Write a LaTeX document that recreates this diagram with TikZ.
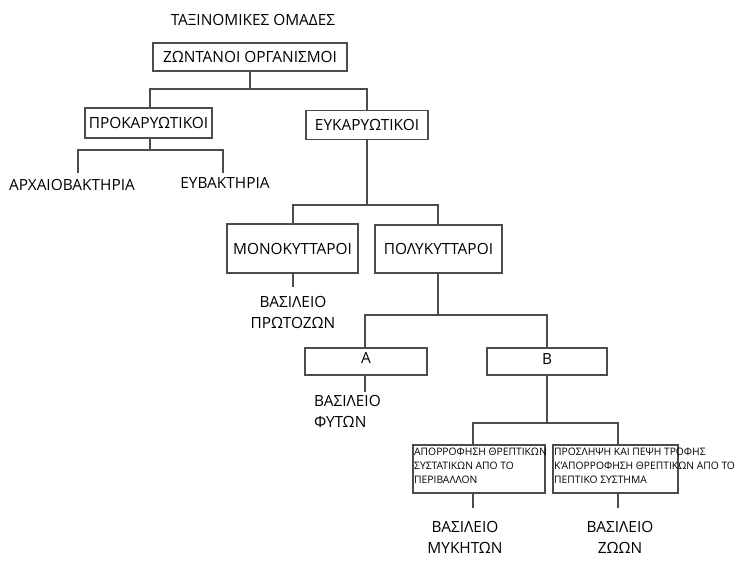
\documentclass[tikz,border=0pt]{standalone}
\usepackage{fontspec}
\setmainfont{Open Sans}
\begin{document}
\begin{tikzpicture}[x=1pt,y=-1pt,
  box/.style={draw=black!70,line width=1.6pt,inner sep=0pt,font=\fontsize{15.4}{18}\selectfont},
  lab/.style={inner sep=0pt,font=\fontsize{15.4}{21}\selectfont,align=center},
  small/.style={inner sep=0pt,font=\fontsize{10.3}{14}\selectfont,align=left,anchor=north west},
  conn/.style={draw=black!70,line width=1.6pt}]
\useasboundingbox[fill=white] (0,0) rectangle (740,564);
% title
\node[lab] (title) at (253,20) {ΤΑΞΙΝΟΜΙΚΕΣ ΟΜΑΔΕΣ};
% boxes
\node[box,minimum width=194pt,minimum height=28pt] (zo) at (250,57) {ΖΩΝΤΑΝΟΙ ΟΡΓΑΝΙΣΜΟΙ};
\node[box,minimum width=127pt,minimum height=30pt] (pro) at (148.5,123) {ΠΡΟΚΑΡΥΩΤΙΚΟΙ};
\node[box,minimum width=122pt,minimum height=29pt] (euk) at (367,125) {ΕΥΚΑΡΥΩΤΙΚΟΙ};
\node[box,minimum width=131pt,minimum height=49pt] (mono) at (292.5,248.5) {ΜΟΝΟΚΥΤΤΑΡΟΙ};
\node[box,minimum width=127pt,minimum height=48pt] (poly) at (438.5,249) {ΠΟΛΥΚΥΤΤΑΡΟΙ};
\node[box,minimum width=122pt,minimum height=27pt,text depth=8pt] (A) at (366,361.5) {Α};
\node[box,minimum width=120pt,minimum height=27pt,text depth=4pt] (B) at (547,361.5) {Β};
\node[box,minimum width=132pt,minimum height=48pt] (abs) at (479,469) {};
\node[box,minimum width=125pt,minimum height=48pt] (ing) at (615.5,469) {};
\node[small] (abst) at (414,448) {ΑΠΟΡΡΟΦΗΣΗ ΘΡΕΠΤΙΚΩΝ\\ΣΥΣΤΑΤΙΚΩΝ ΑΠΟ ΤΟ\\ΠΕΡΙΒΑΛΛΟΝ};
\node[small] (ingt) at (554,448) {ΠΡΟΣΛΗΨΗ ΚΑΙ ΠΕΨΗ ΤΡΟΦΗΣ\\Κ'ΑΠΟΡΡΟΦΗΣΗ ΘΡΕΠΤΙΚΩΝ ΑΠΟ ΤΟ\\ΠΕΠΤΙΚΟ ΣΥΣΤΗΜΑ};
% leaf labels
\node[lab] (arch) at (72,185) {ΑΡΧΑΙΟΒΑΚΤΗΡΙΑ};
\node[lab] (eub) at (225,183) {ΕΥΒΑΚΤΗΡΙΑ};
\node[lab] (prot) at (293,312) {ΒΑΣΙΛΕΙΟ\\ΠΡΩΤΟΖΩΝ};
\node[lab,align=left,anchor=north west] (fyt) at (314,395) {ΒΑΣΙΛΕΙΟ\\ΦΥΤΩΝ};
\node[lab] (myk) at (465,537) {ΒΑΣΙΛΕΙΟ\\ΜΥΚΗΤΩΝ};
\node[lab] (zoa) at (620,537) {ΒΑΣΙΛΕΙΟ\\ΖΩΩΝ};
% end points
\coordinate (archtop) at (78,173);
\coordinate (eubtop) at (223,173);
\coordinate (prottop) at (293,287);
\coordinate (fyttop) at (365,392);
\coordinate (myktop) at (473,508);
\coordinate (zoatop) at (618,508);
\coordinate (j1) at (250,89);
\coordinate (j2) at (150,150);
\coordinate (j3) at (367,205);
\coordinate (j4) at (438,315);
\coordinate (j5) at (547,423);
% connectors
\draw[conn] (zo.south) -- (j1) -| (pro.north -| j2);
\draw[conn] (j1) -| (euk.north);
\draw[conn] (pro.south -| j2) -- (j2) -| (archtop);
\draw[conn] (j2) -| (eubtop);
\draw[conn] (euk.south) -- (j3) -| (mono.north -| prottop);
\draw[conn] (j3) -| (poly.north -| j4);
\draw[conn] (mono.south -| prottop) -- (prottop);
\draw[conn] (poly.south -| j4) -- (j4) -| (A.north -| fyttop);
\draw[conn] (j4) -| (B.north -| j5);
\draw[conn] (A.south -| fyttop) -- (fyttop);
\draw[conn] (B.south -| j5) -- (j5) -| (abs.north -| myktop);
\draw[conn] (j5) -| (ing.north -| zoatop);
\draw[conn] (abs.south -| myktop) -- (myktop);
\draw[conn] (ing.south -| zoatop) -- (zoatop);
\end{tikzpicture}
\end{document}
